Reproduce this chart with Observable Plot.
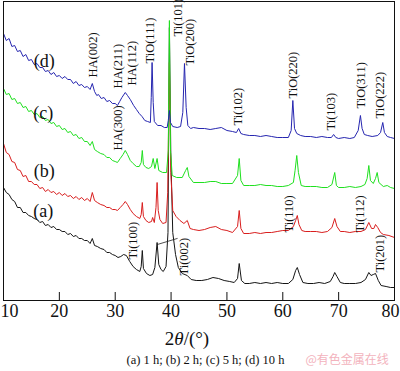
<!DOCTYPE html>
<html><head><meta charset="utf-8">
<script src="https://cdn.jsdelivr.net/npm/d3@7"></script>
<script src="https://cdn.jsdelivr.net/npm/@observablehq/plot@0.6"></script>
<style>html,body{margin:0;padding:0;background:#fff;}</style>
</head><body><div id="chart"></div>
<script>
// x: 2θ (degrees), y: intensity (arbitrary units)
const xTicks = [10, 20, 30, 40, 50, 60, 70, 80];
const seriesA = [[10,115],[10.5,110],[11,108],[11.5,103],[12,101],[12.5,95],[13,95],[13.5,90],[14,90],[14.5,87],[15,86],[15.5,84],[16,83],[16.5,80],[17,81],[17.5,77],[18,78],[18.5,75],[19,76],[19.5,73],[20,73],[20.5,71],[21,71],[21.5,68],[22,69],[22.5,66],[23,67],[23.5,64],[24,64],[24.5,62],[25,62],[25.5,59],[25.9,64],[26.3,57],[26.8,56],[27.4,54],[28,53],[28.5,50],[29,50],[29.5,48],[30,47],[30.5,45],[31,46],[31.5,48],[32,47],[32.6,41],[33.2,36],[33.8,33],[34.4,31],[34.65,36],[34.85,52],[35.05,34],[35.6,29],[36.2,27],[36.7,28],[37.1,35],[37.5,60],[37.8,38],[38.2,33],[38.6,31],[39.1,36],[39.45,70],[39.7,275],[39.95,150],[40.3,70],[40.8,48],[41.3,35],[42,29],[42.9,27],[43.6,23],[44.5,22],[45.5,22],[46.5,23],[47.5,25],[48.5,24],[49.5,22],[50.5,21],[51.3,20],[51.9,24],[52.2,39],[52.6,22],[53.2,19],[54,19],[55,20],[56,19],[57,20],[58,19],[59,20],[60,19],[61,19],[61.8,23],[62.3,32],[62.6,35],[63,28],[63.6,20],[64.5,19],[65.5,19],[66.5,20],[67.5,19],[68.5,21],[69.0,26],[69.3,30],[69.7,26],[70.3,20],[71,19],[72,19],[73,19],[74,20],[74.8,23],[75.4,30],[75.8,27],[76.2,28],[76.6,29],[77.1,22],[77.6,17],[78.5,16],[79.3,15],[80,15]];
const seriesB = [[10,159],[10.5,150],[11,148],[11.5,141],[12,140],[12.5,133],[13,132],[13.5,126],[14,127],[14.5,121],[15,121],[15.5,118],[16,118],[16.5,114],[17,115],[17.5,111],[18,113],[18.5,110],[19,111],[19.5,108],[20,110],[20.5,107],[21,109],[21.5,106],[22,107],[22.5,104],[23,106],[23.5,103],[24,105],[24.5,102],[25,104],[25.5,101],[25.9,110],[26.3,102],[26.8,100],[27.4,98],[28,97],[28.5,95],[29,95],[29.5,93],[30,93],[30.4,92],[30.9,95],[31.4,98],[31.8,101],[32.2,98],[32.7,93],[33.2,89],[33.8,86],[34.4,84],[34.65,88],[34.85,100],[35.05,86],[35.5,82],[36,80],[36.5,81],[36.7,85],[37,80],[37.3,95],[37.5,120],[37.7,92],[38,83],[38.5,79],[39.1,80],[39.4,110],[39.7,240],[39.95,130],[40.3,92],[40.9,86],[41.6,82],[42.3,79],[42.9,82],[43.4,74],[44,73],[45,72],[46,73],[47,75],[48,76],[49,73],[50,72],[51,70],[51.9,76],[52.2,92],[52.5,74],[53,69],[54,69],[55,70],[56,69],[57,70],[58,70],[59,71],[60,72],[61,72],[61.9,76],[62.3,82],[62.6,87],[62.9,78],[63.4,72],[64,71],[65,71],[66,71],[67,70],[68,71],[68.8,75],[69.3,84],[69.7,76],[70.3,71],[71,71],[72,70],[73,71],[74,71],[74.8,73],[75.4,80],[75.9,74],[76.3,74],[76.6,78],[77,75],[77.5,70],[78,68],[79,67],[80,65]];
const seriesC = [[10,214],[10.5,208],[11,209],[11.5,203],[12,204],[12.5,199],[13,200],[13.5,195],[14,196],[14.5,191],[15,192],[15.5,188],[16,189],[16.5,185],[17,186],[17.5,182],[18,183],[18.5,179],[19,180],[19.5,176],[20,177],[20.5,173],[21,174],[21.5,170],[22,171],[22.5,167],[23,168],[23.5,164],[24,165],[24.5,161],[25,161],[25.5,157],[25.9,161],[26.3,153],[26.8,151],[27.4,149],[28,148],[28.5,145],[29,145],[29.5,142],[30,141],[30.4,140],[30.9,144],[31.4,148],[31.8,152],[32.2,148],[32.7,142],[33.2,139],[33.8,136],[34.3,136],[34.65,140],[34.85,152],[35.05,138],[35.5,135],[36,134],[36.5,136],[36.8,144],[37.1,134],[37.5,144],[37.8,132],[38.5,130],[39.2,130],[39.5,152],[39.7,282],[39.9,152],[40.2,127],[41,125],[42,125],[42.6,132],[42.9,135],[43.2,126],[44,120],[45,120],[46,120],[47,121],[48,121],[49,119],[50,119],[51,119],[51.9,127],[52.2,144],[52.5,122],[53,117],[54,117],[55,117],[56,118],[57,117],[58,117],[59,116],[60,116],[61,117],[61.9,120],[62.2,132],[62.5,147],[62.8,130],[63.3,117],[64,116],[65,116],[66,116],[67,115],[68,115],[68.8,118],[69.3,130],[69.6,117],[70,115],[71,115],[72,116],[73,115],[74,116],[74.7,118],[75.1,124],[75.4,137],[75.7,122],[76.2,119],[76.6,124],[76.9,130],[77.2,120],[78,116],[78.7,117],[79.3,115],[80,114]];
const seriesD = [[10,269],[10.5,262],[11,264],[11.5,256],[12,257],[12.5,251],[13,252],[13.5,246],[14,248],[14.5,242],[15,243],[15.5,238],[16,239],[16.5,235],[17,235],[17.5,231],[18,232],[18.5,228],[19,230],[19.5,226],[20,227],[20.5,224],[21,226],[21.5,223],[22,223],[22.5,219],[23,221],[23.5,217],[24,218],[24.5,215],[25,216],[25.5,213],[25.9,219],[26.3,211],[26.7,207],[27,208],[27.5,204],[28,205],[28.5,201],[29,202],[29.5,199],[30,199],[30.4,197],[30.8,201],[31.2,205],[31.8,210],[32.2,207],[32.7,203],[33.3,197],[33.8,193],[34.3,189],[34.8,186],[35.3,182],[35.8,181],[36.3,180],[36.45,205],[36.6,240],[36.8,200],[37.0,181],[37.6,177],[38.2,177],[38.8,175],[39.3,175],[39.5,182],[39.7,192],[39.9,180],[40.3,176],[41.1,175],[41.7,176],[42.1,190],[42.4,239],[42.7,195],[43.0,177],[43.5,174],[44,175],[45,174],[46,174],[47,173],[48,174],[49,175],[50,172],[51,171],[51.7,170],[52.1,174],[52.5,169],[53,168],[54,167],[55,167],[56,166],[57,167],[58,166],[59,165],[60,165],[61,165],[61.5,172],[61.8,202],[62.1,174],[62.5,169],[63.2,167],[64,166],[65,166],[66,165],[67,166],[68,165],[68.7,165],[69.1,168],[69.5,165],[70,164],[71,165],[72,164],[72.8,165],[73.5,172],[73.9,187],[74.2,174],[74.6,168],[75.2,167],[76,166],[77,167],[77.5,170],[77.9,180],[78.2,170],[78.7,166],[79.3,165],[80,164]];
const seriesNames = ["(a)", "(b)", "(c)", "(d)"];
const seriesColors = ["#151515", "#d91e1e", "#1fe01f", "#2626b0"];
const curveLabelX = [17.1, 17.3, 17.1, 17.3];
const curveLabelY = [91, 131, 189, 241];
const peakText = ["HA(002)","HA(211)","HA(112)","TiO(111)","Ti(101)","TiO(200)","HA(300)","Ti(100)","Ti(002)","Ti(102)","TiO(220)","Ti(103)","TiO(311)","TiO(222)","Ti(110)","Ti(112)","Ti(201)"];
const peakX = [26.1, 30.55, 33.05, 36.3, 41.3, 43.45, 30.55, 33.25, 42.4, 52.05, 61.9, 68.7, 74.05, 77.45, 61.15, 73.85, 77.45];
const peakY = [225, 214, 217, 239, 266, 237, 152, 43, 27, 177, 204, 172, 194, 184, 70, 70, 30];
const leaderX = [37.55, 41.1];
const leaderY = [58, 64];
const axisTitle = "2θ/(°)";
const caption = "(a) 1 h; (b) 2 h; (c) 5 h; (d) 10 h";
const watermark = "@有色金属在线";

const allSeries = [seriesA, seriesB, seriesC, seriesD];
const curveLabels = seriesNames.map((t, i) => ({t, x: curveLabelX[i], y: curveLabelY[i]}));
const peaks = peakText.map((t, i) => ({t, x: peakX[i], y: peakY[i]}));
const leader = leaderX.map((x, i) => ({x, y: leaderY[i]}));
const serif = "Liberation Serif";
const tickText = (ticks, dx) => Plot.text(ticks, {x: d => d, text: d => String(d), frameAnchor: "bottom", lineAnchor: "top", dy: 4, dx, fontSize: 18, fontFamily: serif, fill: "#111"});

const chart = Plot.plot({
  width: 400, height: 371,
  marginLeft: 3, marginRight: 6, marginTop: 1, marginBottom: 71,
  style: {fontFamily: serif, background: "#fff", overflow: "visible", color: "#111"},
  x: {domain: [10, 80], axis: null},
  y: {domain: [2, 301], axis: null},
  marks: [
    ...allSeries.map((s, i) => Plot.line(s, {x: d => d[0], y: d => d[1], stroke: seriesColors[i], strokeWidth: 1})),
    Plot.frame({stroke: "#111", strokeWidth: 1}),
    Plot.ruleX(xTicks.slice(1, -1), {y1: 2, y2: 10, stroke: "#111"}),
    tickText(xTicks.slice(1, -1), 0),
    tickText(xTicks.slice(0, 1), 6),
    tickText(xTicks.slice(-1), -4),
    Plot.text(curveLabels, {x: "x", y: "y", text: "t", fontSize: 18, fontFamily: serif, fill: "#111"}),
    Plot.text(peaks, {x: "x", y: "y", text: "t", rotate: -90, textAnchor: "start", fontSize: 12.5, fontFamily: serif, fill: "#111"}),
    Plot.line(leader, {x: "x", y: "y", stroke: "#222", strokeWidth: 0.8}),
    Plot.text([axisTitle], {frameAnchor: "bottom", dx: -12, dy: 44, fontSize: 19, fontFamily: serif, fill: "#111"}),
    Plot.text([caption], {frameAnchor: "bottom", dx: 6.5, dy: 63, fontSize: 12.5, fontFamily: serif, fill: "#111"}),
    Plot.text([watermark], {frameAnchor: "bottom-left", textAnchor: "start", dx: 302, dy: 63, fontSize: 12, fill: "#f3b3bd", fontFamily: "Noto Sans CJK SC"})
  ]
});
d3.select(chart).selectAll("text").filter(function(){ return this.textContent === axisTitle; }).each(function(){
  const t = d3.select(this);
  t.text("");
  t.append("tspan").text("2");
  t.append("tspan").attr("font-style", "italic").text("θ");
  t.append("tspan").text("/(°)");
});
document.getElementById("chart").appendChild(chart);
</script>
</body></html>
